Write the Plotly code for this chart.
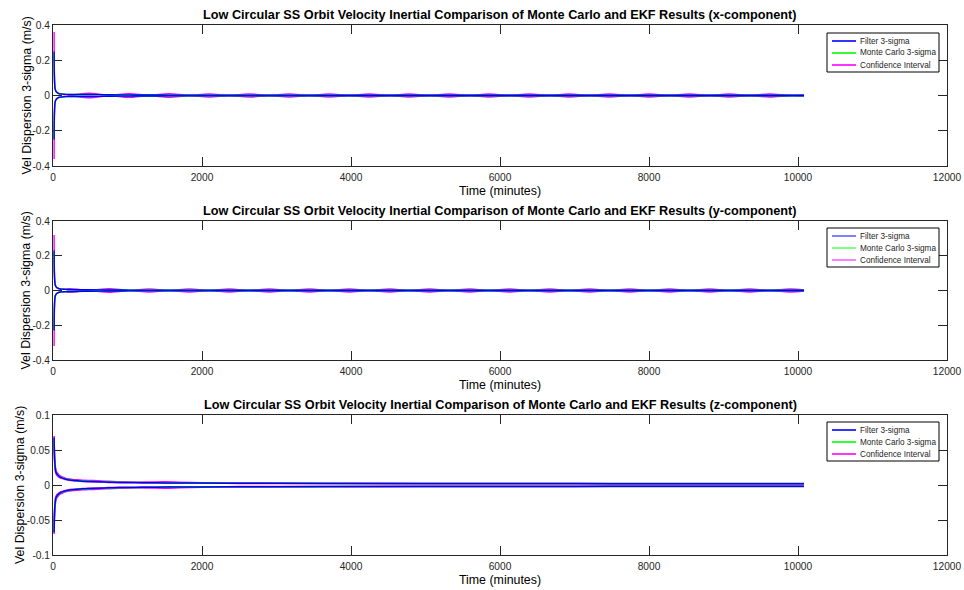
import plotly.graph_objects as go

# ---------------- data ----------------
# time grid (minutes) for x- and y-components
t_xy = [15, 18, 22, 27, 33, 40, 50, 65, 80, 100, 120, 145, 175,
        215, 484, 752, 1021, 1290, 1558, 1827, 2096, 2364, 2633,
        2902, 3170, 3439, 3708, 3976, 4245, 4514, 4782, 5051, 5320,
        5588, 5857, 6126, 6394, 6663, 6932, 7200, 7469, 7738, 8006,
        8275, 8544, 8812, 9081, 9350, 9618, 9887, 10080]

# x-component (upper bounds, m/s)
filt_x = [0.250, 0.120, 0.065, 0.040, 0.030, 0.024, 0.018, 0.014, 0.011, 0.009, 0.008, 0.007, 0.0065,
          0.006, 0.0055, 0.0045, 0.0035, 0.0028, 0.0024, 0.0022, 0.0021, 0.0020, 0.0020,
          0.0019, 0.0019, 0.0019, 0.0018, 0.0018, 0.0018, 0.0018, 0.0018, 0.0017, 0.0017,
          0.0017, 0.0017, 0.0017, 0.0017, 0.0016, 0.0016, 0.0016, 0.0016, 0.0016, 0.0016,
          0.0016, 0.0016, 0.0016, 0.0016, 0.0016, 0.0016, 0.0016, 0.0016]
mc_x = [0.240, 0.118, 0.066, 0.041, 0.031, 0.025, 0.019, 0.0145, 0.0115, 0.0092, 0.0081, 0.0071, 0.0066,
        0.0060, 0.0054, 0.0044, 0.0034, 0.0027, 0.0023, 0.0021, 0.0020, 0.0020, 0.0019,
        0.0019, 0.0018, 0.0018, 0.0018, 0.0018, 0.0017, 0.0017, 0.0017, 0.0017, 0.0017,
        0.0017, 0.0016, 0.0016, 0.0016, 0.0016, 0.0016, 0.0016, 0.0016, 0.0015, 0.0015,
        0.0015, 0.0015, 0.0015, 0.0015, 0.0015, 0.0015, 0.0015, 0.0015]
ci_x = [0.360, 0.150, 0.080, 0.045, 0.032, 0.025, 0.018, 0.013, 0.010, 0.008, 0.007, 0.006, 0.005,
        0.0010, 0.0125, 0.0010, 0.0105, 0.0010, 0.0098, 0.0010, 0.0094, 0.0010, 0.0092,
        0.0010, 0.0091, 0.0010, 0.0090, 0.0010, 0.0089, 0.0010, 0.0088, 0.0010, 0.0088,
        0.0010, 0.0087, 0.0010, 0.0087, 0.0010, 0.0086, 0.0010, 0.0086, 0.0010, 0.0086,
        0.0010, 0.0085, 0.0010, 0.0085, 0.0010, 0.0084, 0.0010, 0.0030]

# y-component (upper bounds, m/s)
filt_y = [0.230, 0.110, 0.060, 0.038, 0.028, 0.022, 0.017, 0.013, 0.011, 0.009, 0.008, 0.007, 0.0065,
          0.0055, 0.0040, 0.0030, 0.0024, 0.0021, 0.0020, 0.0019, 0.0019, 0.0018, 0.0018,
          0.0018, 0.0017, 0.0017, 0.0017, 0.0017, 0.0017, 0.0016, 0.0016, 0.0016, 0.0016,
          0.0016, 0.0016, 0.0016, 0.0016, 0.0016, 0.0016, 0.0015, 0.0015, 0.0015, 0.0015,
          0.0015, 0.0015, 0.0015, 0.0015, 0.0015, 0.0015, 0.0015, 0.0015]
mc_y = [0.220, 0.108, 0.061, 0.039, 0.029, 0.023, 0.0175, 0.0135, 0.0112, 0.0092, 0.0081, 0.0071, 0.0066,
        0.0054, 0.0039, 0.0029, 0.0023, 0.0020, 0.0019, 0.0018, 0.0018, 0.0017, 0.0017,
        0.0017, 0.0016, 0.0016, 0.0016, 0.0016, 0.0016, 0.0015, 0.0015, 0.0015, 0.0015,
        0.0015, 0.0015, 0.0015, 0.0015, 0.0015, 0.0015, 0.0014, 0.0014, 0.0014, 0.0014,
        0.0014, 0.0014, 0.0014, 0.0014, 0.0014, 0.0014, 0.0014, 0.0014]
ci_y = [0.320, 0.140, 0.075, 0.042, 0.030, 0.023, 0.017, 0.012, 0.009, 0.008, 0.0075, 0.0078, 0.0085,
        0.0110, 0.0010, 0.0100, 0.0010, 0.0095, 0.0010, 0.0092, 0.0010, 0.0090, 0.0010,
        0.0089, 0.0010, 0.0088, 0.0010, 0.0088, 0.0010, 0.0087, 0.0010, 0.0087, 0.0010,
        0.0086, 0.0010, 0.0086, 0.0010, 0.0085, 0.0010, 0.0085, 0.0010, 0.0084, 0.0010,
        0.0084, 0.0010, 0.0084, 0.0010, 0.0083, 0.0010, 0.0083, 0.0030]

# z-component
t_z = [15, 18, 22, 28, 35, 45, 60, 75, 90, 110, 135, 165, 200, 260, 330, 400, 500, 600,
       750, 900, 1100, 1300, 1500, 1700, 2000, 2500, 3000, 4000, 5000, 6000, 7000,
       8000, 9000, 10080]
filt_z = [0.068, 0.050, 0.036, 0.027, 0.020, 0.017, 0.0145, 0.013, 0.0115, 0.0105, 0.0095, 0.0085,
          0.0075, 0.0067, 0.0060, 0.0055, 0.0050, 0.0046, 0.0041, 0.0037, 0.0034, 0.0032, 0.0030,
          0.0029, 0.0027, 0.0025, 0.0024, 0.0022, 0.0021, 0.0020, 0.0020, 0.0019, 0.0019, 0.0019]
mc_z = [0.066, 0.049, 0.037, 0.028, 0.021, 0.0175, 0.015, 0.0135, 0.012, 0.011, 0.0098, 0.0088,
        0.0078, 0.0069, 0.0062, 0.0057, 0.0052, 0.0048, 0.0043, 0.0038, 0.0035, 0.0033, 0.0031,
        0.0030, 0.0028, 0.0026, 0.0025, 0.0023, 0.0022, 0.0021, 0.0021, 0.0020, 0.0020, 0.0020]
ci_z_hi = [0.070, 0.053, 0.040, 0.031, 0.024, 0.020, 0.017, 0.0152, 0.0135, 0.0123, 0.0110, 0.0098,
           0.0088, 0.0080, 0.0074, 0.0069, 0.0064, 0.0060, 0.0053, 0.0046, 0.0041, 0.0043, 0.0046,
           0.0041, 0.0033, 0.0028, 0.0026, 0.0024, 0.0023, 0.0022, 0.0022, 0.0021, 0.0021, 0.0021]
ci_z_lo = [0.062, 0.045, 0.033, 0.025, 0.018, 0.015, 0.0130, 0.0118, 0.0105, 0.0097, 0.0088, 0.0079,
           0.0070, 0.0062, 0.0056, 0.0051, 0.0046, 0.0042, 0.0037, 0.0033, 0.0031, 0.0029, 0.0027,
           0.0026, 0.0025, 0.0023, 0.0022, 0.0020, 0.0019, 0.0018, 0.0018, 0.0018, 0.0017, 0.0017]

x_ticks = [0, 2000, 4000, 6000, 8000, 10000, 12000]
x_tick_text = ["0", "2000", "4000", "6000", "8000", "10000", "12000"]
y_ticks_xy = [-0.4, -0.2, 0, 0.2, 0.4]
y_tick_text_xy = ["-0.4", "-0.2", "0", "0.2", "0.4"]
y_ticks_z = [-0.1, -0.05, 0, 0.05, 0.1]
y_tick_text_z = ["-0.1", "-0.05", "0", "0.05", "0.1"]

titles = [
    "Low Circular SS Orbit Velocity Inertial Comparison of Monte Carlo and EKF Results (x-component)",
    "Low Circular SS Orbit Velocity Inertial Comparison of Monte Carlo and EKF Results (y-component)",
    "Low Circular SS Orbit Velocity Inertial Comparison of Monte Carlo and EKF Results (z-component)",
]
y_title = "Vel Dispersion 3-sigma (m/s)"
x_title = "Time (minutes)"
legend_names = ["Filter 3-sigma", "Monte Carlo 3-sigma", "Confidence Interval"]

BLUE = "#0000FF"
GREEN = "#00FF00"
MAGENTA = "#FF00FF"
AXC = "#262626"
FONT = "Liberation Sans, Arial, Helvetica, sans-serif"

# ---------------- geometry ----------------
W, H = 964, 590
ML, MT = 53, 25
MR = W - 947
MB = H - 555
PW, PH = W - ML - MR, H - MT - MB


def px(xs):
    return (xs - ML) / PW


def py(ys):
    return 1 - (ys - MT) / PH


panel_px = [(25, 166), (221, 360), (415, 555)]
domains = [[py(b), py(t)] for (t, b) in panel_px]
ytitle_x = [26, 26, 20]

fig = go.Figure()


def add_panel(idx, t, filt, mc, ci_list, w, shape):
    xa = "x" if idx == 1 else f"x{idx}"
    ya = "y" if idx == 1 else f"y{idx}"
    common = dict(xaxis=xa, yaxis=ya, mode="lines", hoverinfo="skip", showlegend=False)
    for ci in ci_list:
        for sgn in (1, -1):
            fig.add_trace(go.Scatter(x=t, y=[sgn * v for v in ci], name=legend_names[2],
                                     line=dict(color=MAGENTA, width=w, shape=shape), **common))
    for sgn in (1, -1):
        fig.add_trace(go.Scatter(x=t, y=[sgn * v for v in mc], name=legend_names[1],
                                 line=dict(color=GREEN, width=w, shape=shape), **common))
    for sgn in (1, -1):
        fig.add_trace(go.Scatter(x=t, y=[sgn * v for v in filt], name=legend_names[0],
                                 line=dict(color=BLUE, width=w, shape=shape), **common))


add_panel(1, t_xy, filt_x, mc_x, [ci_x], 1.4, "spline")
add_panel(2, t_xy, filt_y, mc_y, [ci_y], 1.4, "spline")
add_panel(3, t_z, filt_z, mc_z, [ci_z_hi, ci_z_lo], 1.5, "spline")

axis_common = dict(showline=True, linecolor=AXC, linewidth=1, mirror="ticks",
                   ticks="inside", ticklen=9, tickcolor=AXC, tickwidth=1,
                   showgrid=False, zeroline=False, automargin=False,
                   layer="below traces", ticklabeloverflow="allow",
                   tickfont=dict(family=FONT, size=10.2, color=AXC))

layout = dict(
    width=W, height=H,
    margin=dict(l=ML, r=MR, t=MT, b=MB, autoexpand=False),
    paper_bgcolor="white", plot_bgcolor="white",
    font=dict(family=FONT, color=AXC),
    showlegend=False,
)

for i in range(3):
    n = "" if i == 0 else str(i + 1)
    yt, ytt, rng = ((y_ticks_z, y_tick_text_z, [-0.1, 0.1]) if i == 2
                    else (y_ticks_xy, y_tick_text_xy, [-0.4, 0.4]))
    layout[f"xaxis{n}"] = dict(domain=[0, 1], anchor=f"y{n}", range=[0, 12000],
                               tickvals=x_ticks, ticktext=x_tick_text, ticklabelstandoff=2,
                               title=dict(text=x_title, standoff=4,
                                          font=dict(family=FONT, size=12.4, color="black")),
                               **axis_common)
    layout[f"yaxis{n}"] = dict(domain=domains[i], anchor=f"x{n}", range=rng,
                               tickvals=yt, ticktext=ytt, **axis_common)

fig.update_layout(**layout)

# panel titles and y-axis titles
for i, ttl in enumerate(titles):
    fig.add_annotation(text=f"<b>{ttl}</b>", x=0.5, xref="paper", y=domains[i][1], yref="paper",
                       xanchor="center", yanchor="bottom", yshift=1, showarrow=False,
                       font=dict(family=FONT, size=12.7, color="black"))
    fig.add_annotation(text=y_title, textangle=-90, x=px(ytitle_x[i]), xref="paper",
                       y=(domains[i][0] + domains[i][1]) / 2, yref="paper",
                       xanchor="center", yanchor="middle", showarrow=False,
                       font=dict(family=FONT, size=12.4, color="black"))

# MATLAB-style legends (box, line samples, labels)
legend_colors = [BLUE, GREEN, MAGENTA]
legend_top = [33, 228, 422]
LX0, LX1 = 827, 939
for i in range(3):
    top = legend_top[i]
    fig.add_shape(type="rect", xref="paper", yref="paper",
                  x0=px(LX0), x1=px(LX1), y0=py(top + 39), y1=py(top),
                  line=dict(color="black", width=1), fillcolor="white", layer="above")
    for k, (nm, col) in enumerate(zip(legend_names, legend_colors)):
        yy = top + 8 + 12 * k
        fig.add_shape(type="line", xref="paper", yref="paper",
                      x0=px(832), x1=px(856), y0=py(yy), y1=py(yy),
                      line=dict(color=col, width=1.6 if i != 1 else 1), layer="above")
        fig.add_annotation(text=nm, xref="paper", yref="paper", x=px(858), y=py(yy),
                           xanchor="left", yanchor="middle", showarrow=False,
                           font=dict(family=FONT, size=8.2, color=AXC))

# remove the default 8px body margin so the figure fills the window exactly
fig.write_html("out.html", config={"displayModeBar": False},
               post_script="document.body.style.margin='0';document.body.style.overflow='hidden';")
